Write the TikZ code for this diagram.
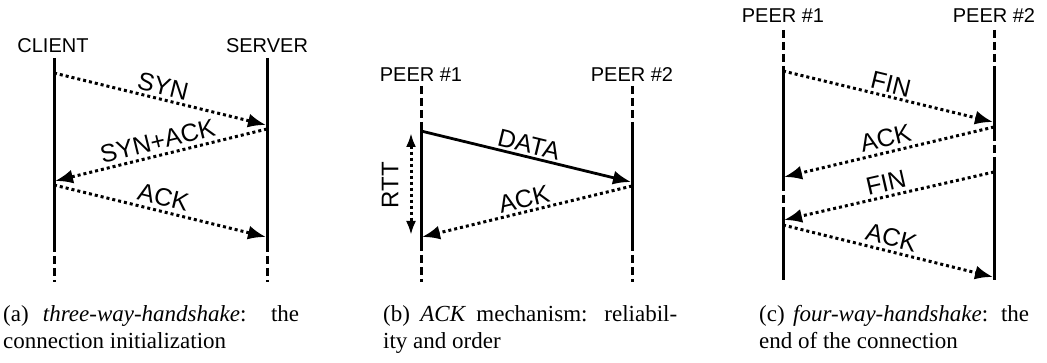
\documentclass[tikz,border=0pt]{standalone}
\usepackage{fontspec}
\setmainfont{Liberation Serif}
\newfontfamily\sanslbl{Liberation Sans}
\usetikzlibrary{arrows.meta}

\begin{document}
\begin{tikzpicture}[x=1pt,y=-1pt,
  lifeline/.style={line width=3pt},
  gapline/.style={line width=3pt, dash pattern=on 8pt off 4pt},
  msg/.style={line width=3pt, dash pattern=on 3pt off 3pt, -{Latex[length=18pt,width=14pt]}},
  datamsg/.style={line width=2.8pt, -{Latex[length=18pt,width=14pt]}},
  rtt/.style={line width=3pt, dash pattern=on 3pt off 3pt, {Latex[length=14pt,width=10pt]}-{Latex[length=14pt,width=10pt]}},
  actor/.style={font=\sanslbl\fontsize{20}{24}\selectfont, inner sep=0pt},
  msglbl/.style={font=\sanslbl\fontsize{25}{30}\selectfont, sloped, above, inner sep=2.5pt},
  capt/.style={font=\fontsize{23}{27}\selectfont, anchor=north west, inner sep=0pt, align=left}
]
\useasboundingbox (0,0) rectangle (1047,363);

% ---------- (a) three-way handshake ----------
\node[actor] (cli) at (53,45.5) {CLIENT};
\node[actor] (srv) at (267,45.5) {SERVER};
\coordinate (cliT) at (54,58);   \coordinate (cliS) at (54,244); \coordinate (cliB) at (54,282);
\coordinate (srvT) at (267,58);  \coordinate (srvS) at (267,244); \coordinate (srvB) at (267,282);
\draw[lifeline] (cliT) -- (cliS);
\draw[gapline] (cliS) -- (cliB);
\draw[lifeline] (srvT) -- (srvS);
\draw[gapline] (srvS) -- (srvB);

\coordinate (a1) at (54,73);   \coordinate (a2) at (266,125);
\coordinate (a3) at (267,129); \coordinate (a4) at (55,181);
\coordinate (a5) at (54,185);  \coordinate (a6) at (266,237);
\draw[msg] (a1) -- node[msglbl] {SYN} (a2);
\draw[msg] (a3) -- node[msglbl, inner sep=4pt] {SYN+ACK} (a4);
\draw[msg] (a5) -- node[msglbl, inner sep=4pt] {ACK} (a6);

% ---------- (b) ACK mechanism ----------
\node[actor] (pb1) at (421,75) {PEER \#1};
\node[actor] (pb2) at (632,75) {PEER \#2};
\coordinate (pb1T) at (421,86);  \coordinate (pb1U) at (421,128);
\coordinate (pb1S) at (421,243); \coordinate (pb1B) at (421,282);
\coordinate (pb2T) at (632,86);  \coordinate (pb2U) at (632,128);
\coordinate (pb2S) at (632,243); \coordinate (pb2B) at (632,282);
\draw[gapline] (pb1T) -- (pb1U);
\draw[lifeline] (pb1U) -- (pb1S);
\draw[gapline] (pb1S) -- (pb1B);
\draw[gapline] (pb2T) -- (pb2U);
\draw[lifeline] (pb2U) -- (pb2S);
\draw[gapline] (pb2S) -- (pb2B);

\coordinate (b1) at (421,131); \coordinate (b2) at (631,182);
\coordinate (b3) at (632,186); \coordinate (b4) at (422,237);
\draw[datamsg] (b1) -- node[msglbl] {DATA} (b2);
\draw[msg] (b3) -- node[msglbl] {ACK} (b4);

\coordinate (rttT) at (411,133); \coordinate (rttB) at (411,235);
\draw[rtt] (rttT) -- (rttB);
\node[font=\sanslbl\fontsize{24}{28}\selectfont, rotate=90, inner sep=0pt] (rttlbl) at (390,185) {RTT};

% ---------- (c) four-way handshake ----------
\node[actor] (pc1) at (783,15.5) {PEER \#1};
\node[actor] (pc2) at (994,15.5) {PEER \#2};
\coordinate (pc1T) at (783,30);  \coordinate (pc1U) at (783,70);
\coordinate (pc1M) at (783,183); \coordinate (pc1N) at (783,213);
\coordinate (pc1B) at (783,280);
\coordinate (pc2T) at (994,30);  \coordinate (pc2U) at (994,70);
\coordinate (pc2M) at (994,133); \coordinate (pc2N) at (994,163);
\coordinate (pc2B) at (994,280);
\draw[gapline] (pc1T) -- (pc1U);
\draw[lifeline] (pc1U) -- (pc1M);
\draw[gapline] (pc1M) -- (pc1N);
\draw[lifeline] (pc1N) -- (pc1B);
\draw[gapline] (pc2T) -- (pc2U);
\draw[lifeline] (pc2U) -- (pc2M);
\draw[gapline] (pc2M) -- (pc2N);
\draw[lifeline] (pc2N) -- (pc2B);

\coordinate (c1) at (783,71);  \coordinate (c2) at (993,122);
\coordinate (c3) at (994,127); \coordinate (c4) at (784,177);
\coordinate (c5) at (994,172); \coordinate (c6) at (784,220);
\coordinate (c7) at (783,225); \coordinate (c8) at (993,277);
\draw[msg] (c1) -- node[msglbl] {FIN} (c2);
\draw[msg] (c3) -- node[msglbl, inner sep=4pt] {ACK} (c4);
\draw[msg] (c5) -- node[msglbl, inner sep=3.5pt] {FIN} (c6);
\draw[msg] (c7) -- node[msglbl, inner sep=3.5pt] {ACK} (c8);

% ---------- captions (first line justified) ----------
\node[capt] (capA) at (3,305) {\hbox to 296pt{(a) \textit{three-way-handshake}: the}\\connection initialization};
\node[capt] (capB) at (383,305) {\hbox to 294pt{(b) \textit{ACK} mechanism: reliabil-}\\ity and order};
\node[capt] (capC) at (759,305) {\hbox to 270pt{(c) \textit{four-way-handshake}: the}\\end of the connection};
\end{tikzpicture}
\end{document}
